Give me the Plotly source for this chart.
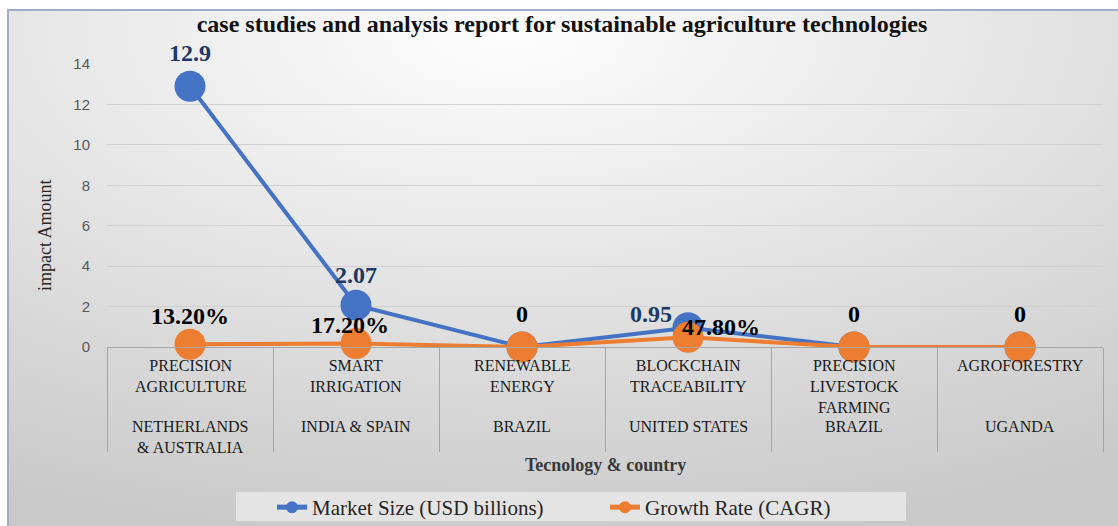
import base64
import plotly.graph_objects as go

# ---------------- data ----------------
technologies = ["PRECISION<br>AGRICULTURE", "SMART<br>IRRIGATION", "RENEWABLE<br>ENERGY",
                "BLOCKCHAIN<br>TRACEABILITY", "PRECISION<br>LIVESTOCK<br>FARMING", "AGROFORESTRY"]
countries = ["NETHERLANDS<br>& AUSTRALIA", "INDIA & SPAIN", "BRAZIL",
             "UNITED STATES", "BRAZIL", "UGANDA"]
market_size = [12.9, 2.07, 0, 0.95, 0, 0]
market_labels = ["12.9", "2.07", "", "0.95", "", ""]
growth_rate = [0.132, 0.172, 0, 0.478, 0, 0]
growth_labels = ["13.20%", "17.20%", "0", "47.80%", "0", "0"]
y_ticks = [0, 2, 4, 6, 8, 10, 12, 14]

# label offsets in pixels (style, not data)
market_offsets = [(0, 33), (0, 30), (0, 0), (-37, 14), (0, 0), (0, 0)]
growth_offsets = [(0, 28), (-6, 19), (0, 33), (33, 10), (0, 33), (0, 33)]

BLUE = "#4472C4"
ORANGE = "#ED7D31"
SERIF = "Liberation Serif"

W, H = 1118, 526
L, R, T, B = 107, 15, 64, 179
PW, PH = W - L - R, H - T - B


def py(pix):
    return (T + PH - pix) / PH


def px(pix):
    return (pix - L) / PW


fig = go.Figure()
fig.add_trace(go.Scatter(
    x=technologies, y=market_size, mode="lines+markers", name="Market Size (USD billions)",
    line=dict(color=BLUE, width=4), marker=dict(color=BLUE, size=31), cliponaxis=False))
fig.add_trace(go.Scatter(
    x=technologies, y=growth_rate, mode="lines+markers", name="Growth Rate (CAGR)",
    line=dict(color=ORANGE, width=4), marker=dict(color=ORANGE, size=31), cliponaxis=False))

annotations = []
for ys, labels, offs, col in [
        (market_size, market_labels, market_offsets, "#203864"),
        (growth_rate, growth_labels, growth_offsets, "#000000")]:
    for xv, yv, lab, (dx, dy) in zip(technologies, ys, labels, offs):
        if lab:
            annotations.append(dict(x=xv, y=yv, xref="x", yref="y", text=lab, showarrow=False,
                                    xanchor="center", yanchor="middle",
                                    xshift=dx, yshift=dy,
                                    font=dict(family=SERIF, size=24, color=col, weight="bold")))

# two-level category labels
for tech, country in zip(technologies, countries):
    annotations.append(dict(x=tech, y=py(355), xref="x", yref="paper",
                            xanchor="center", yanchor="top", text=tech, showarrow=False,
                            font=dict(family=SERIF, size=16, color="#1a1a1a")))
    annotations.append(dict(x=tech, y=py(416), xref="x", yref="paper",
                            xanchor="center", yanchor="top", text=country, showarrow=False,
                            font=dict(family=SERIF, size=16, color="#1a1a1a")))

annotations.append(dict(x=px(605), y=py(465), xref="paper", yref="paper", showarrow=False,
                        xanchor="center", yanchor="middle",
                        text="Tecnology & country",
                        font=dict(family=SERIF, size=18, color="#3a3a3a", weight="bold")))
annotations.append(dict(x=px(45), y=py(235), xref="paper", yref="paper", showarrow=False,
                        xanchor="center", yanchor="middle",
                        text="impact Amount", textangle=-90,
                        font=dict(family=SERIF, size=18, color="#262626")))

# background gradient panel
gw, gh = W - 7, H - 9
svg = f'''<svg xmlns="http://www.w3.org/2000/svg" width="{gw}" height="{gh}" viewBox="0 0 {gw} {gh}" preserveAspectRatio="none">
<defs><radialGradient id="g" cx="0.45" cy="0.05" r="1.0" gradientUnits="objectBoundingBox">
<stop offset="0" stop-color="#fdfdfd"/><stop offset="0.35" stop-color="#ebebeb"/>
<stop offset="0.7" stop-color="#d8d8d8"/><stop offset="1" stop-color="#c9c9c9"/></radialGradient></defs>
<rect x="0" y="0" width="{gw}" height="{gh}" fill="url(#g)"/>
<line x1="0" y1="1" x2="{gw}" y2="1" stroke="#9fabc9" stroke-width="2"/>
<line x1="1" y1="0" x2="1" y2="{gh}" stroke="#9fabc9" stroke-width="2"/>
</svg>'''
src = "data:image/svg+xml;base64," + base64.b64encode(svg.encode()).decode()

fig.update_layout(
    width=W, height=H,
    margin=dict(l=L, r=R, t=T, b=B, autoexpand=False),
    paper_bgcolor="white", plot_bgcolor="rgba(0,0,0,0)",
    images=[dict(source=src, xref="paper", yref="paper", x=px(7), y=py(9),
                 sizex=gw / PW, sizey=gh / PH, sizing="stretch", layer="below",
                 xanchor="left", yanchor="top")],
    shapes=[dict(type="rect", xref="paper", yref="paper", x0=px(236), x1=px(906),
                 y0=py(521), y1=py(492), fillcolor="#e4e4e4", line=dict(width=0),
                 layer="below")],
    title=dict(text="case studies and analysis report for sustainable agriculture technologies",
               x=562 / W, y=1 - 24 / H, xanchor="center", yanchor="middle",
               font=dict(family=SERIF, size=24, color="#111111", weight="bold")),
    xaxis=dict(type="category", range=[-0.5, len(technologies) - 0.5], showgrid=False,
               showline=True, linecolor="#a6a6a6", linewidth=1,
               ticks="outside", tickson="boundaries", ticklen=104, tickcolor="#a6a6a6",
               tickwidth=1, showticklabels=False, zeroline=False, fixedrange=True),
    yaxis=dict(range=[0, 14], tickvals=y_ticks, showgrid=True, gridcolor="#d0d0d0",
               gridwidth=1, zeroline=False, showline=False, ticks="",
               ticklabelstandoff=16,
               tickfont=dict(family="Liberation Sans", size=15, color="#595959"),
               fixedrange=True),
    showlegend=True,
    legend=dict(orientation="h", x=px(272), y=py(487), xanchor="left", yanchor="top",
                bgcolor="rgba(0,0,0,0)", itemsizing="constant", entrywidth=288,
                font=dict(family=SERIF, size=21, color="#262626")),
    annotations=annotations,
)

fig.write_html("out.html")
